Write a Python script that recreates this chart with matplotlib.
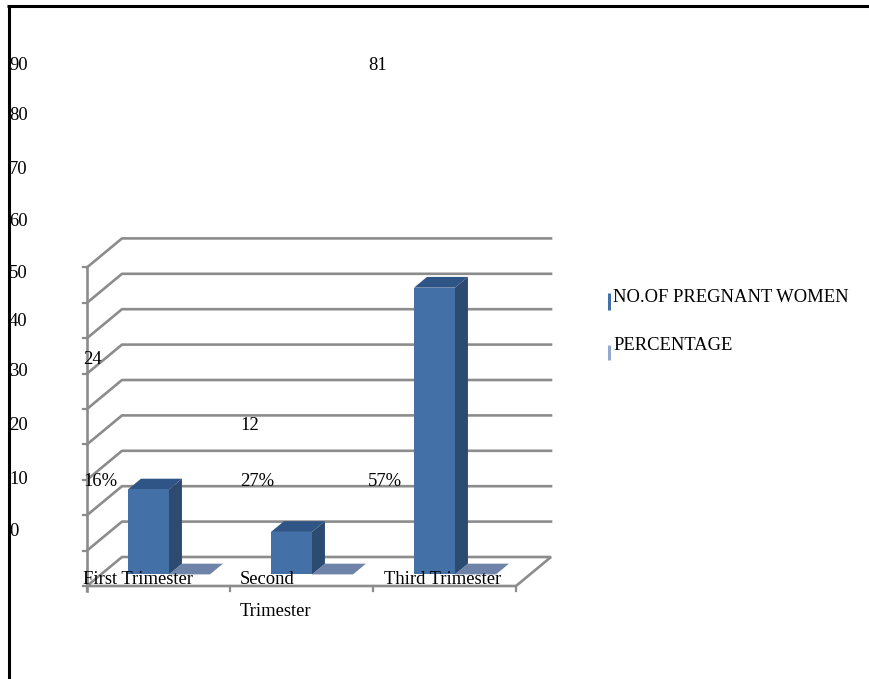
import matplotlib
matplotlib.use('Agg')
import matplotlib.pyplot as plt
from matplotlib.patches import Polygon

###############################################################################
# Data
###############################################################################

categories = ['First Trimester', 'Second', 'Third Trimester']
category_extra = 'Trimester'
women = [24, 12, 81]
percentage = [0.16, 0.27, 0.57]
percent_labels = ['16%', '27%', '57%']
y_ticks = [0, 10, 20, 30, 40, 50, 60, 70, 80, 90]
legend_labels = ['NO.OF PREGNANT WOMEN', 'PERCENTAGE']

###############################################################################
# Layout, everything in reference pixels
###############################################################################

W, H = 869, 679
x0, x1 = 87, 516        # front edge of the floor
y0 = 586                # value 0 on the front plane
px_per_unit = 3.54
dx, dy = 35, -29        # depth of the whole box
grid_col = '#8c8c8c'
blue, blue_side, blue_top = '#4470a8', '#2d4b70', '#2f5586'
pale, pale_floor = '#95a8d0', '#6f83a8'
font = 'Liberation Serif'
fs = 13.4

fig = plt.figure(figsize=(W / 100, H / 100), dpi=100)
ax = fig.add_axes([0, 0, 1, 1])
ax.set_xlim(0, W)
ax.set_ylim(H, 0)
ax.axis('off')


def proj(x, value, depth=0.0):
    """ Front plane x and a value to a pixel, depth goes 0 to 1 into the box
    """
    return x + depth * dx, y0 - value * px_per_unit + depth * dy


# picture frame, only top and left show
ax.plot([8.5, 8.5], [5, H], color='black', lw=2.2, solid_capstyle='butt')
ax.plot([7, W], [5.5, 5.5], color='black', lw=2.2, solid_capstyle='butt')

# grid
for v in y_ticks:
    xa, ya = proj(x0, v)
    xb, yb = proj(x0, v, 1)
    xc, yc = proj(x1, v, 1)
    if v == 0:
        xd, yd = proj(x1, v)
        ax.plot([xa, xd, xc, xb, xa], [ya, yd, yc, yb, ya], color=grid_col, lw=1.9, solid_joinstyle='miter')
    else:
        ax.plot([xa, xb, xc], [ya, yb, yc], color=grid_col, lw=1.9)
    ax.plot([xa - 4, xa], [ya, ya], color=grid_col, lw=1.6)

# value axis and category ticks
ax.plot([x0, x0], [proj(x0, 0)[1] + 5, proj(x0, 90)[1]], color=grid_col, lw=1.9)
for i in range(4):
    xt = x0 + i * (x1 - x0) / 3
    ax.plot([xt, xt], [y0, y0 + 5], color=grid_col, lw=1.6)

# bars
bar_left = [128, 271, 414]
bar_w = 41
front, back = 0.40, 0.77
for left, v, p in zip(bar_left, women, percentage):
    # second series is nearly flat on the floor
    r = left + bar_w
    xa, ya = proj(r - 14, 0, front)
    xb, yb = proj(r + bar_w - 14, 0, front)
    xc, yc = proj(r + bar_w - 14, 0, back)
    xd, yd = proj(r - 14, 0, back)
    ax.add_patch(Polygon([(xa, ya), (xb, yb), (xc, yc), (xd, yd)], fc=pale_floor, ec='none', zorder=3))

    xa, ya = proj(left - 14, v, front)
    xb, yb = proj(left - 14 + bar_w, v, front)
    xc, yc = proj(left - 14 + bar_w, 0, front)
    xd, yd = proj(left - 14, 0, front)
    off_x = (back - front) * dx
    off_y = (back - front) * dy
    ax.add_patch(Polygon([(xb, yb), (xb + off_x, yb + off_y), (xc + off_x, yc + off_y), (xc, yc)],
                         fc=blue_side, ec='none', zorder=4))
    ax.add_patch(Polygon([(xa, ya), (xb, yb), (xb + off_x, yb + off_y), (xa + off_x, ya + off_y)],
                         fc=blue_top, ec='none', zorder=4))
    ax.add_patch(Polygon([(xa, ya), (xb, yb), (xc, yc), (xd, yd)], fc=blue, ec='none', zorder=5))

# text, all of it sits off from the marks as in the reference
tick_y = [532, 480, 425, 372, 322, 274, 221, 169, 116, 65]
for v, ty in zip(y_ticks, tick_y):
    ax.text(9, ty, str(v), family=font, fontsize=fs, va='center', ha='left', zorder=6)

label_pos = [(83, 359), (240, 425), (368, 65)]
for v, (tx, ty) in zip(women, label_pos):
    ax.text(tx, ty, str(v), family=font, fontsize=fs, va='center', ha='left', zorder=6)

pct_x = [83, 240, 368]
for s, tx in zip(percent_labels, pct_x):
    ax.text(tx, 481, s, family=font, fontsize=fs, va='center', ha='left', zorder=6)

cat_x = [83, 240, 384]
for s, tx in zip(categories, cat_x):
    ax.text(tx, 579, s, family=font, fontsize=fs, va='center', ha='left', zorder=6)
ax.text(240, 612, category_extra, family=font, fontsize=fs, va='center', ha='left', zorder=6)

# legend
for s, col, ly, (y_a, y_b) in zip(legend_labels, [blue, pale], [298, 346], [(293, 310), (345, 360)]):
    ax.plot([608.5, 608.5], [y_a, y_b], color=col, lw=2.2, solid_capstyle='butt')
    ax.text(613, ly, s, family=font, fontsize=fs, va='center', ha='left')

fig.savefig('out.png', dpi=100)
